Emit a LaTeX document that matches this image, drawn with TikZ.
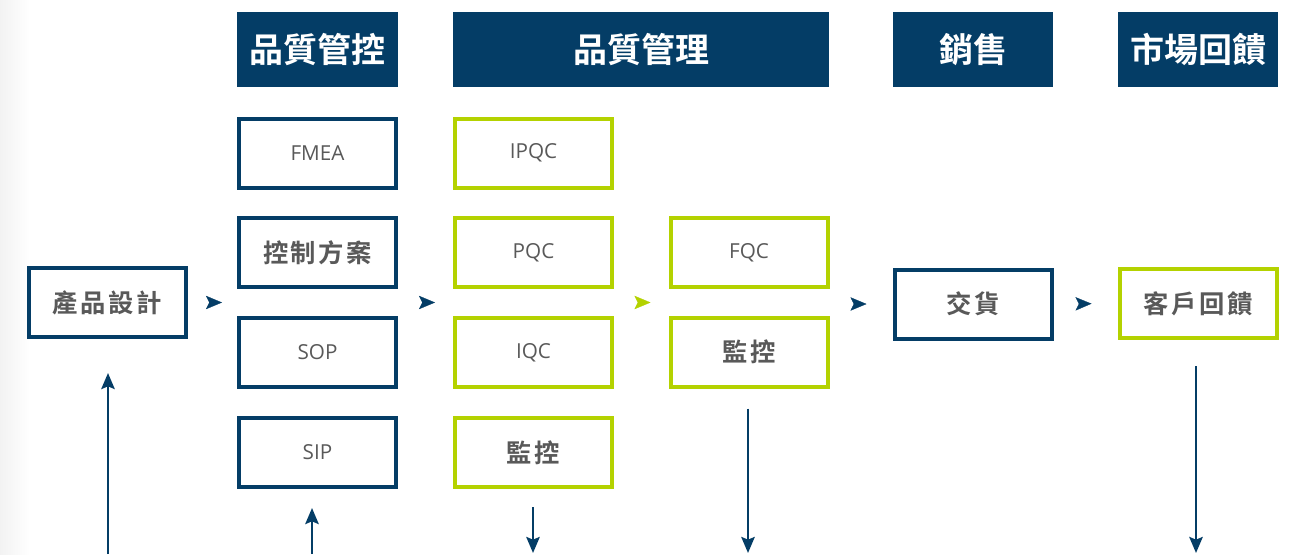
\documentclass[tikz,border=0pt]{standalone}
\usepackage{fontspec}
\setmainfont{Open Sans}
\newfontfamily\cjk{Noto Sans CJK TC}[BoldFont={* Bold}]
\newfontfamily\cjkbox{Noto Sans CJK TC}[BoldFont={* Bold},LetterSpace=10]
\usetikzlibrary{arrows.meta}
\definecolor{navy}{HTML}{043D66}
\definecolor{lime}{HTML}{B4D200}
\definecolor{txtgray}{HTML}{595959}

\begin{document}
\begin{tikzpicture}[x=0.75pt,y=-0.75pt,
  header/.style={fill=navy,text=white,minimum height=56.25pt,inner sep=0pt,
    font=\cjk\bfseries\fontsize{25.5}{30}\selectfont},
  box/.style={draw=#1,line width=3pt,minimum width=117.75pt,minimum height=51.75pt,
    inner sep=0pt,text=txtgray,font=\fontsize{15.5}{18}\selectfont},
  cjklabel/.style={font=\cjkbox\bfseries\fontsize{19}{22}\selectfont},
  gap/.style 2 args={-{Stealth[length=12pt,width=10pt,inset=2.5pt]},line width=0.2pt,
    shorten <=#1,shorten >=#2},
  flow/.style={-{Stealth[length=12pt,width=10pt,inset=2pt]},draw=navy,line width=2pt}]

  % Canvas
  \fill[white] (0,0) rectangle (1303,554);
  \shade[left color=black!5,right color=white] (0,0) rectangle (30,554);
  \useasboundingbox (0,0) rectangle (1303,554);

  % Headers
  \node[header,minimum width=120.75pt] (qcHead) at (317.5,49.5) {品質管控};
  \node[header,minimum width=282pt] (qmHead) at (641,49.5) {品質管理};
  \node[header,minimum width=120pt] (salesHead) at (973,49.5) {銷售};
  \node[header,minimum width=120pt] (mktHead) at (1198,49.5) {市場回饋};

  % Product design
  \node[box=navy,cjklabel] (design) at (107,302.5) {產品設計};

  % Quality control column
  \node[box=navy] (fmea) at (317.5,153) {FMEA};
  \node[box=navy,cjklabel] (plan) at (317.5,252.5) {控制方案};
  \node[box=navy] (sop) at (317.5,352.5) {SOP};
  \node[box=navy] (sip) at (317.5,452.5) {SIP};

  % Quality management columns
  \node[box=lime] (ipqc) at (533.5,153) {IPQC};
  \node[box=lime] (pqc) at (533.5,252.5) {PQC};
  \node[box=lime] (iqc) at (533.5,352.5) {IQC};
  \node[box=lime,cjklabel] (monA) at (533.5,452.5) {監控};
  \node[box=lime] (fqc) at (749,252.5) {FQC};
  \node[box=lime,cjklabel] (monB) at (749,352) {監控};

  % Sales and feedback
  \node[box=navy,cjklabel] (delivery) at (973,304) {交貨};
  \node[box=lime,cjklabel] (feedback) at (1198,303.5) {客戶回饋};

  % Arrow heads between the columns
  \draw[gap={17.25pt}{11.25pt},navy] (design.east) -- (design.east -| plan.west);
  \draw[gap={19.5pt}{13.5pt},navy] (design.east -| sop.east) -- (design.east -| iqc.west);
  \draw[gap={18.75pt}{13.5pt},lime] (design.east -| iqc.east) -- (design.east -| fqc.west);
  \draw[gap={18.75pt}{19.5pt},navy] (delivery.west -| fqc.east) -- (delivery.west);
  \draw[gap={19.5pt}{19.5pt},navy] (delivery.east) -- (feedback.west);

  % Vertical arrows
  \coordinate (inA) at (108,554);
  \coordinate (inB) at (312,554);
  \coordinate (outA) at (533,553);
  \coordinate (outB) at (748,553);
  \coordinate (outC) at (1196,553);
  \draw[flow,shorten >=25.5pt] (inA) -- (inA |- design.south);
  \draw[flow,shorten >=14.25pt] (inB) -- (inB |- sip.south);
  \draw[flow,shorten <=13.5pt] (outA |- monA.south) -- (outA);
  \draw[flow,shorten <=15pt] (outB |- monB.south) -- (outB);
  \draw[flow,shorten <=19.5pt] (outC |- feedback.south) -- (outC);
\end{tikzpicture}
\end{document}
